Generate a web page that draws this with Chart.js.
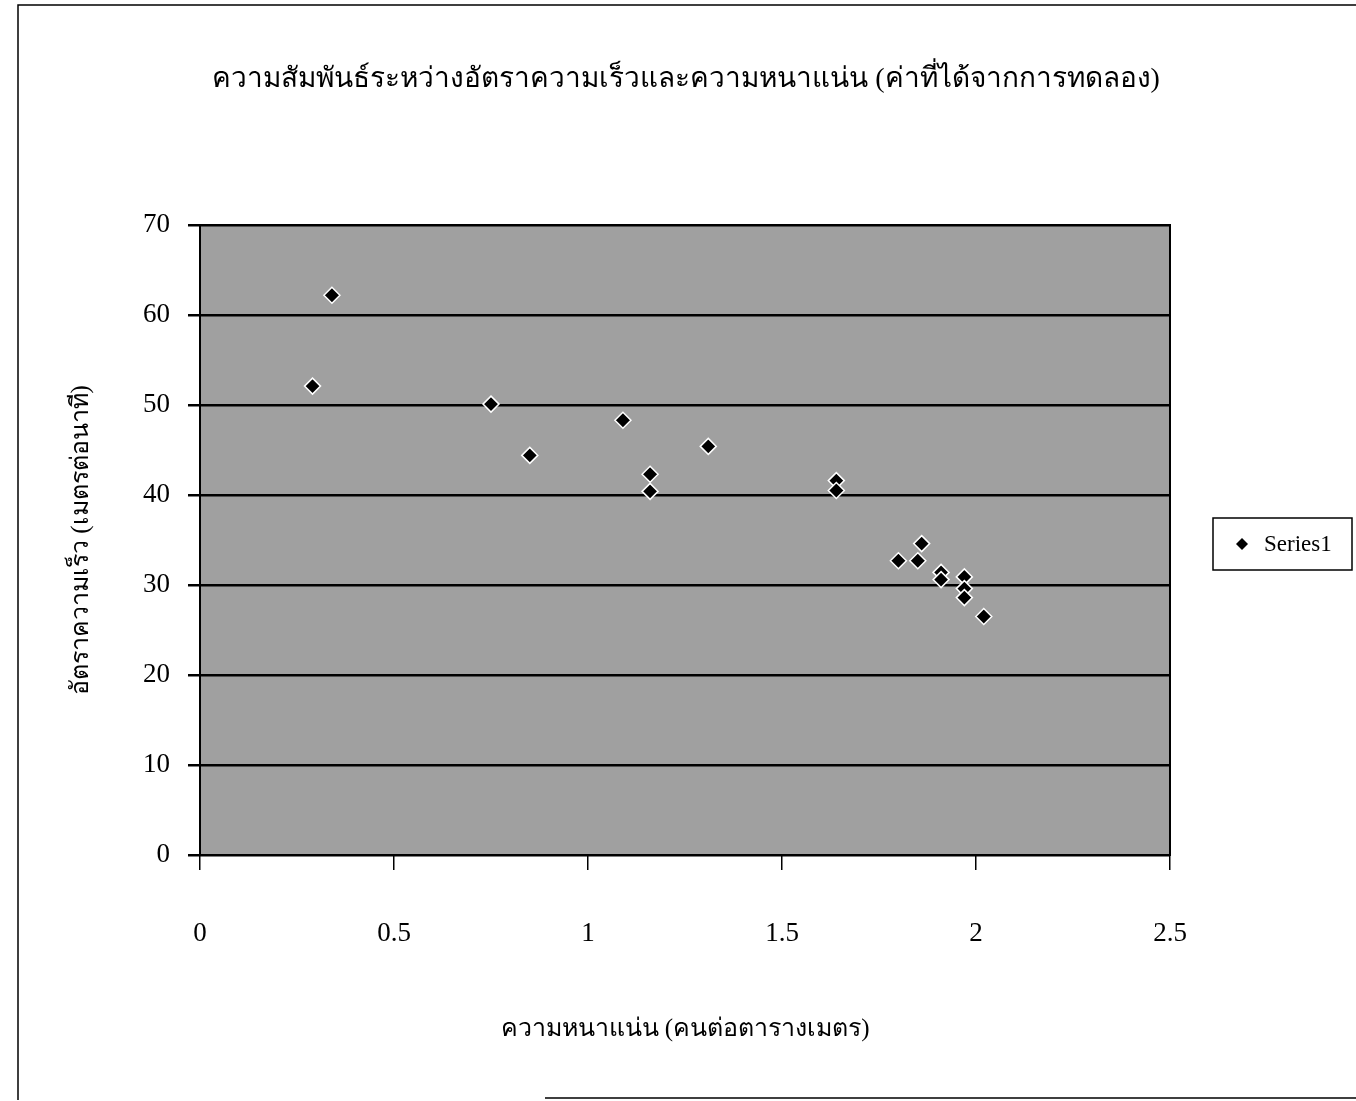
<!DOCTYPE html>
<html>
<head>
<meta charset="utf-8">
<script src="https://cdn.jsdelivr.net/npm/chart.js@4.4.1/dist/chart.umd.min.js"></script>
<style>
  html, body { margin: 0; padding: 0; background: #fff; }
  #wrap { width: 1356px; height: 1101px; position: relative; }
</style>
</head>
<body>
<div id="wrap"><canvas id="scatterChart" width="1356" height="1101"></canvas></div>
<script>
// ข้อมูลจากการทดลอง
const densityValues = [0.29, 0.34, 0.75, 0.85, 1.09, 1.16, 1.16, 1.31, 1.64, 1.64, 1.80, 1.85, 1.86, 1.91, 1.91, 1.97, 1.97, 1.97, 2.02];
const speedValues   = [52.1, 62.2, 50.1, 44.4, 48.3, 42.3, 40.4, 45.4, 41.6, 40.5, 32.7, 32.7, 34.6, 31.4, 30.6, 30.9, 29.6, 28.6, 26.5];
const xTicks = [0, 0.5, 1, 1.5, 2, 2.5];
const yTicks = [0, 10, 20, 30, 40, 50, 60, 70];
const seriesName = 'Series1';
const chartTitle = 'ความสัมพันธ์ระหว่างอัตราความเร็วและความหนาแน่น (ค่าที่ได้จากการทดลอง)';
const xTitle = 'ความหนาแน่น (คนต่อตารางเมตร)';
const yTitle = 'อัตราความเร็ว (เมตรต่อนาที)';

const serif = "'Liberation Serif', 'Times New Roman', serif";

const points = densityValues.map((x, i) => ({ x: x, y: speedValues[i] }));

// พื้นหลังสีเทา + กรอบพื้นที่กราฟ + กรอบภาพ + ชื่อกราฟ + คำอธิบาย
const framePlugin = {
    id: 'frame',
    beforeDraw(chart) {
        const { ctx, chartArea: a } = chart;
        ctx.save();
        ctx.fillStyle = '#fff';
        ctx.fillRect(0, 0, chart.width, chart.height);
        ctx.fillStyle = '#a0a0a0';
        ctx.fillRect(a.left, a.top, a.right - a.left, a.bottom - a.top);
        ctx.restore();
    },
    afterDraw(chart) {
        const { ctx, chartArea: a } = chart;
        ctx.save();
        ctx.strokeStyle = '#000';
        ctx.lineWidth = 2;
        ctx.strokeRect(a.left, a.top, a.right - a.left, a.bottom - a.top);

        // outer frame
        ctx.lineWidth = 1.5;
        ctx.beginPath();
        ctx.moveTo(18, 1100); ctx.lineTo(18, 5); ctx.lineTo(1356, 5);
        ctx.moveTo(545, 1098); ctx.lineTo(1356, 1098);
        ctx.stroke();

        // title
        ctx.fillStyle = '#000';
        ctx.font = '28px ' + serif;
        ctx.textAlign = 'center';
        ctx.textBaseline = 'middle';
        ctx.fillText(chartTitle, 686, 80);

        // legend
        const lx = 1213, ly = 518, lw = 139, lh = 52;
        ctx.lineWidth = 1.5;
        ctx.strokeRect(lx, ly, lw, lh);
        const ds = chart.data.datasets[0];
        ctx.beginPath();
        ctx.moveTo(1242, ly + lh / 2 - 6);
        ctx.lineTo(1248, ly + lh / 2);
        ctx.lineTo(1242, ly + lh / 2 + 6);
        ctx.lineTo(1236, ly + lh / 2);
        ctx.closePath();
        ctx.fill();
        ctx.font = '23px ' + serif;
        ctx.textAlign = 'left';
        ctx.fillText(ds.label, 1264, ly + lh / 2 + 1);
        ctx.restore();
    }
};

new Chart(document.getElementById('scatterChart'), {
    type: 'scatter',
    data: {
        datasets: [{
            label: seriesName,
            data: points,
            pointStyle: 'rectRot',
            pointRadius: 8,
            pointHoverRadius: 8,
            backgroundColor: '#000',
            borderColor: '#fff',
            borderWidth: 1.5
        }]
    },
    options: {
        responsive: false,
        animation: false,
        layout: { padding: { left: 0, right: 186, top: 225, bottom: 0 } },
        plugins: {
            legend: { display: false },
            tooltip: { enabled: false },
            title: { display: false }
        },
        scales: {
            x: {
                type: 'linear',
                min: 0,
                max: 2.5,
                afterFit: s => { s.height = 246; },
                afterBuildTicks: s => { s.ticks = xTicks.map(v => ({ value: v })); },
                grid: { drawOnChartArea: false, drawTicks: true, tickLength: 15, color: '#000', lineWidth: 1.5 },
                border: { display: true, color: '#000', width: 2 },
                ticks: { color: '#000', padding: 48, font: { family: serif, size: 27 }, callback: v => String(v) },
                title: { display: true, text: xTitle, color: '#000', font: { family: serif, size: 25 }, padding: { top: 4, bottom: 57 } }
            },
            y: {
                type: 'linear',
                min: 0,
                max: 70,
                afterFit: s => { s.width = 200; },
                afterBuildTicks: s => { s.ticks = yTicks.map(v => ({ value: v })); },
                grid: { color: '#000', lineWidth: 2.5, drawTicks: true, tickLength: 12 },
                border: { display: true, color: '#000', width: 2 },
                ticks: { color: '#000', padding: 18, font: { family: serif, size: 27 } },
                title: { display: true, text: yTitle, color: '#000', font: { family: serif, size: 25 }, padding: { top: 66, bottom: 4 } }
            }
        }
    },
    plugins: [framePlugin]
});
</script>
</body>
</html>
